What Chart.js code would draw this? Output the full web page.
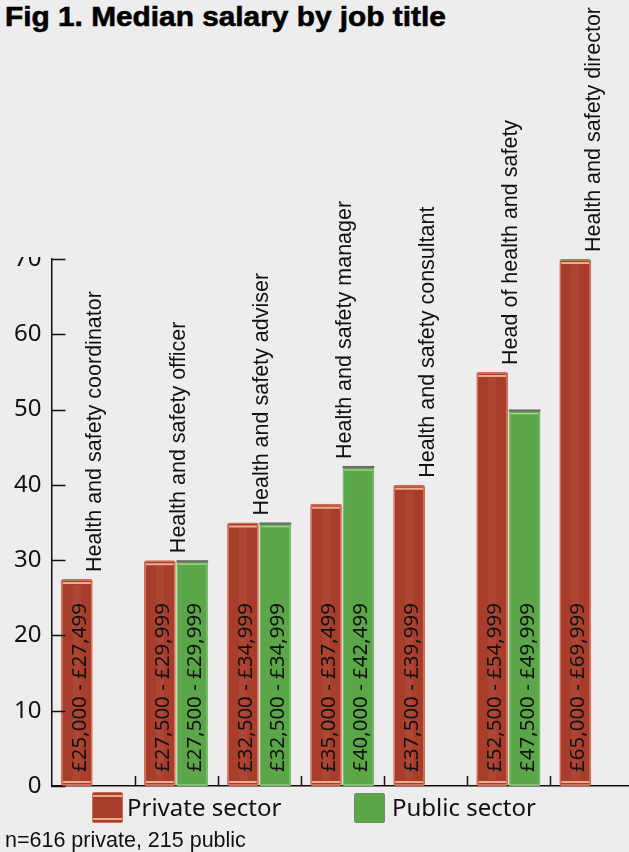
<!DOCTYPE html>
<html lang="en">
<head>
<meta charset="utf-8">
<title>Median salary by job title</title>
<script src="https://cdn.jsdelivr.net/npm/chart.js@4.4.1/dist/chart.umd.min.js"></script>
<style>
    html, body { margin: 0; padding: 0; }
    body {
        position: relative;
        width: 629px;
        height: 852px;
        overflow: hidden;
        background: #ededed;
        font-family: 'Liberation Sans', Arial, sans-serif;
        color: #111;
    }
    #salaryChart { position: absolute; left: 0; top: 0; }
    .fig-title {
        position: absolute;
        left: 5px;
        top: 3px;
        font-size: 28px;
        line-height: 28px;
        font-weight: bold;
        color: #000;
        white-space: nowrap;
        -webkit-text-stroke: 0.6px #000;
        transform-origin: left top;
        transform: scaleX(1.065);
    }
    .legend-swatch {
        position: absolute;
        width: 31px;
        height: 31px;
        box-sizing: border-box;
        border-radius: 2px;
    }
    .swatch-private {
        left: 92px;
        top: 792px;
        border: 1.5px solid #d66a50;
        background: linear-gradient(to bottom,
            #a93d2b 0, #a93d2b 2px, #e8ab92 2px, #e8ab92 4px,
            #a93d2b 4px, #a93d2b calc(100% - 4px), #e8ab92 calc(100% - 4px),
            #e8ab92 calc(100% - 2px), #a93d2b calc(100% - 2px));
    }
    .swatch-public {
        left: 354px;
        top: 793px;
        height: 30px;
        border: 1.5px solid #6f8f68;
        background: #5aa648;
    }
    .legend-text {
        position: absolute;
        top: 792px;
        font-family: 'Noto Sans', sans-serif;
        font-size: 24px;
        line-height: 30px;
        color: #111;
        white-space: nowrap;
    }
    .fig-note {
        position: absolute;
        left: 5px;
        top: 830px;
        font-size: 21.5px;
        line-height: 21px;
        color: #111;
        white-space: nowrap;
    }
</style>
</head>
<body>
<div class="fig-title">Fig 1. Median salary by job title</div>
<canvas id="salaryChart" width="634" height="852"></canvas>
<div class="legend-swatch swatch-private"></div>
<div class="legend-text" style="left:127px;">Private sector</div>
<div class="legend-swatch swatch-public"></div>
<div class="legend-text" style="left:392px;">Public sector</div>
<div class="fig-note">n=616 private, 215 public</div>

<script>
// ---- data ----
const jobTitles = [
    'Health and safety coordinator',
    'Health and safety officer',
    'Health and safety adviser',
    'Health and safety manager',
    'Health and safety consultant',
    'Head of health and safety',
    'Health and safety director'
];

// bar height = top of the salary band, in £ thousands
const privateTop = [27.5, 30, 35, 37.5, 40, 55, 70];
const publicTop = [null, 30, 35, 42.5, null, 50, null];

// bottom of each salary band, in £
const privateLow = [25000, 27500, 32500, 35000, 37500, 52500, 65000];
const publicLow = [null, 27500, 32500, 40000, null, 47500, null];

const yTicks = [0, 10, 20, 30, 40, 50, 60, 70];

const PAGE_BG = '#ededed';
const INK = '#111';

function money(n) {
    return '£' + n.toLocaleString('en-GB');
}

function bandLabel(low, top) {
    if (top == null || low == null) return null;
    return money(low) + ' - ' + money(Math.round(top * 1000) - 1);
}

const privateBands = privateTop.map((t, i) => bandLabel(privateLow[i], t));
const publicBands = publicTop.map((t, i) => bandLabel(publicLow[i], t));

// ---- decorations drawn on top of the bars ----
const barDecor = {
    id: 'barDecor',
    afterDatasetsDraw(chart) {
        const ctx = chart.ctx;
        const bands = [privateBands, publicBands];

        chart.data.datasets.forEach((ds, di) => {
            const meta = chart.getDatasetMeta(di);
            meta.data.forEach((bar, i) => {
                if (ds.data[i] == null) return;
                const left = bar.x - bar.width / 2;
                const right = bar.x + bar.width / 2;
                const top = bar.y;
                const base = bar.base;

                ctx.save();
                if (di === 0) {
                    // light rim lines near top and bottom
                    ctx.strokeStyle = 'rgba(238, 178, 150, 0.95)';
                    ctx.lineWidth = 2;
                    ctx.beginPath();
                    ctx.moveTo(left + 2, top + 4);
                    ctx.lineTo(right - 2, top + 4);
                    ctx.moveTo(left + 2, base - 4);
                    ctx.lineTo(right - 2, base - 4);
                    ctx.stroke();
                    // soft vertical sheen
                    ctx.fillStyle = 'rgba(255, 255, 255, 0.05)';
                    ctx.fillRect(bar.x - 4, top + 6, 8, base - top - 12);
                } else {
                    ctx.strokeStyle = '#6c6c6c';
                    ctx.lineWidth = 2;
                    ctx.beginPath();
                    ctx.moveTo(left, top + 1);
                    ctx.lineTo(right, top + 1);
                    ctx.stroke();
                    ctx.strokeStyle = 'rgba(170, 215, 150, 0.9)';
                    ctx.lineWidth = 1.5;
                    ctx.beginPath();
                    ctx.moveTo(left + 2, top + 4);
                    ctx.lineTo(right - 2, top + 4);
                    ctx.stroke();
                }

                // salary band, written up the bar
                const text = bands[di][i];
                if (text) {
                    ctx.translate(bar.x + 9, base - 14);
                    ctx.rotate(-Math.PI / 2);
                    ctx.font = '20.5px "Noto Sans", sans-serif';
                    ctx.fillStyle = INK;
                    ctx.textAlign = 'left';
                    ctx.textBaseline = 'alphabetic';
                    ctx.fillText(text, 0, 0);
                }
                ctx.restore();
            });
        });
    }
};

// ---- job titles above each group, inward tick marks ----
const axisDecor = {
    id: 'axisDecor',
    afterDraw(chart) {
        const ctx = chart.ctx;
        const x = chart.scales.x;
        const y = chart.scales.y;
        const area = chart.chartArea;

        ctx.save();
        ctx.strokeStyle = INK;
        ctx.lineWidth = 1.5;

        // y ticks point into the plot
        yTicks.forEach(v => {
            const py = Math.round(y.getPixelForValue(v)) + 0.5;
            ctx.beginPath();
            ctx.moveTo(area.left, py);
            ctx.lineTo(area.left + 14, py);
            ctx.stroke();
        });

        // x ticks between categories, pointing up
        for (let i = 1; i < jobTitles.length; i++) {
            const px = Math.round((x.getPixelForValue(i - 1) + x.getPixelForValue(i)) / 2) + 0.5;
            ctx.beginPath();
            ctx.moveTo(px, area.bottom);
            ctx.lineTo(px, area.bottom - 10);
            ctx.stroke();
        }

        // job title labels
        ctx.font = '21.5px "Liberation Sans", Arial, sans-serif';
        ctx.fillStyle = INK;
        ctx.textAlign = 'left';
        ctx.textBaseline = 'alphabetic';
        jobTitles.forEach((title, i) => {
            const tallest = Math.max(privateTop[i] || 0, publicTop[i] || 0);
            const cx = x.getPixelForValue(i);
            const topPx = y.getPixelForValue(tallest);
            ctx.save();
            ctx.translate(cx + 8.5, topPx - 7);
            ctx.rotate(-Math.PI / 2);
            ctx.fillText(title, 0, 0);
            ctx.restore();
        });

        // the top of the y labels sits behind the heading band
        ctx.fillStyle = PAGE_BG;
        ctx.fillRect(0, area.top - 30, area.left - 3, 28);
        ctx.restore();
    }
};

const ctx = document.getElementById('salaryChart').getContext('2d');

const salaryChart = new Chart(ctx, {
    type: 'bar',
    data: {
        labels: jobTitles,
        datasets: [
            {
                label: 'Private sector',
                data: privateTop,
                backgroundColor: '#a93d2b',
                borderColor: '#d66a50',
                borderWidth: 1.5,
                borderSkipped: false,
                borderRadius: 2,
                categoryPercentage: 0.78,
                barPercentage: 0.98
            },
            {
                label: 'Public sector',
                data: publicTop,
                backgroundColor: '#5aa648',
                borderColor: '#7dbb6c',
                borderWidth: 1.5,
                borderSkipped: false,
                borderRadius: 1,
                categoryPercentage: 0.78,
                barPercentage: 0.98
            }
        ]
    },
    options: {
        responsive: false,
        animation: false,
        devicePixelRatio: 1,
        layout: {
            padding: { top: 259, left: 4, right: 1, bottom: 66 }
        },
        plugins: {
            legend: { display: false },
            title: { display: false },
            tooltip: { enabled: false }
        },
        scales: {
            x: {
                grid: { display: false, drawTicks: false },
                ticks: { display: false },
                border: { display: true, color: INK, width: 1.5 }
            },
            y: {
                min: 0,
                max: 70,
                afterBuildTicks(scale) {
                    scale.ticks = yTicks.map(v => ({ value: v }));
                },
                ticks: {
                    padding: 10,
                    color: INK,
                    font: { family: 'Noto Sans', size: 24 }
                },
                grid: { display: false, drawTicks: false },
                border: { display: true, color: INK, width: 1.5 }
            }
        }
    },
    plugins: [barDecor, axisDecor]
});
</script>
</body>
</html>
